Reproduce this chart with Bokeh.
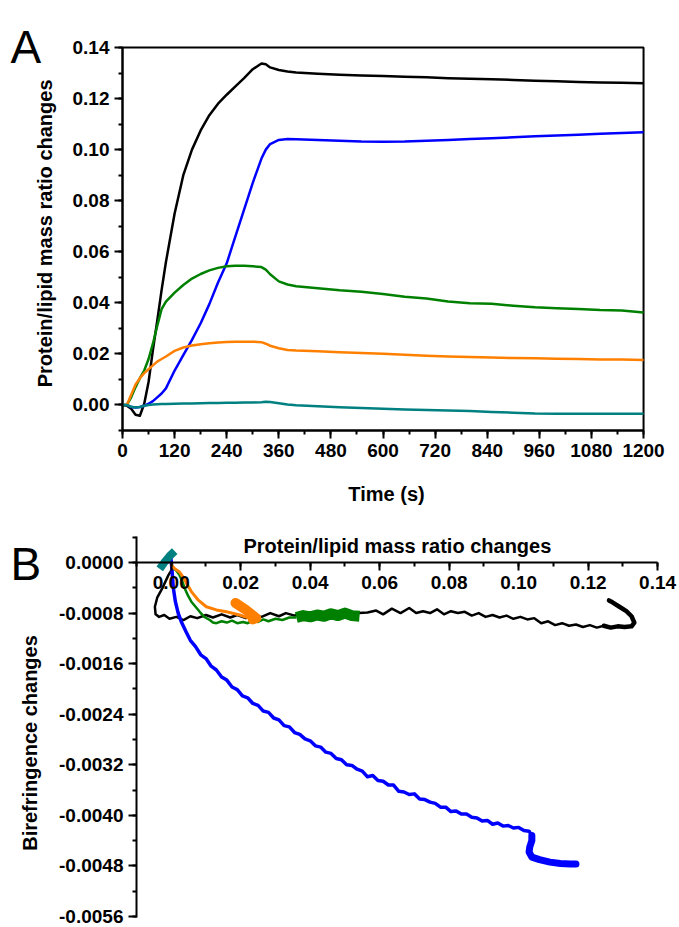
import math
from bokeh.plotting import figure
from bokeh.models import (Range1d, LinearAxis, SingleIntervalTicker, NumeralTickFormatter,
                          Label, BoxAnnotation)
from bokeh.layouts import column
from bokeh.embed import file_html
from bokeh.resources import INLINE

# ---------------- Panel A data: protein/lipid mass ratio vs time ----------------
time_s = [0, 10, 20, 30, 40, 50, 60, 70, 80, 90, 100, 120, 140, 160, 180, 200, 220, 240,
          260, 280, 300, 320, 330, 340, 360, 380, 400, 450, 500, 550, 600, 650, 700, 750,
          800, 850, 900, 950, 1000, 1050, 1100, 1150, 1200]
black_a = [0, -0.0003, -0.0015, -0.0038, -0.0042, 0.0005, 0.009, 0.0215, 0.033, 0.045, 0.056,
           0.075, 0.090, 0.100, 0.1075, 0.1135, 0.118, 0.1215, 0.1248, 0.128, 0.1315, 0.1337,
           0.1334, 0.1322, 0.1312, 0.1306, 0.1302, 0.1297, 0.1293, 0.129, 0.1288, 0.1285, 0.1283,
           0.128, 0.1278, 0.1276, 0.1273, 0.127, 0.1268, 0.1265, 0.1263, 0.1262, 0.126]
blue_a = [0, 0, -0.0008, -0.001, -0.0008, -0.0003, 0.0005, 0.0015, 0.003, 0.0045, 0.0065,
          0.0135, 0.0195, 0.0255, 0.032, 0.0395, 0.048, 0.0555, 0.066, 0.0765, 0.087, 0.0965,
          0.100, 0.1022, 0.1038, 0.1042, 0.1041, 0.1038, 0.1035, 0.1032, 0.1031, 0.1032, 0.1035,
          0.1038, 0.1042, 0.1045, 0.1048, 0.1052, 0.1055, 0.1058, 0.1062, 0.1065, 0.1068]
green_a = [0, 0, 0.003, 0.007, 0.0105, 0.0135, 0.018, 0.024, 0.031, 0.0375, 0.0405, 0.044,
           0.047, 0.0495, 0.0513, 0.0527, 0.0537, 0.0543, 0.0545, 0.0545, 0.0543, 0.054, 0.053,
           0.0512, 0.0484, 0.0472, 0.0465, 0.0457, 0.0449, 0.0443, 0.0435, 0.0424, 0.0417,
           0.0405, 0.0398, 0.0396, 0.0389, 0.0383, 0.0379, 0.0376, 0.0372, 0.037, 0.0362]
orange_a = [0, 0, 0.004, 0.008, 0.0105, 0.0125, 0.014, 0.0155, 0.017, 0.018, 0.019, 0.0212,
            0.0225, 0.0233, 0.0238, 0.0242, 0.0245, 0.0247, 0.0248, 0.0248, 0.0248, 0.0246,
            0.024, 0.0232, 0.0222, 0.0215, 0.0213, 0.021, 0.0207, 0.0204, 0.0201, 0.0197,
            0.0193, 0.019, 0.0188, 0.0186, 0.0184, 0.0183, 0.0181, 0.018, 0.0178, 0.0178, 0.0176]
teal_a = [0, 0, -0.0007, -0.001, -0.0008, -0.0003, 0, 0.0002, 0.0003, 0.0004, 0.0004, 0.0005,
          0.0006, 0.0006, 0.0007, 0.0008, 0.0008, 0.0009, 0.0009, 0.001, 0.001, 0.0011, 0.0013,
          0.0012, 0.0007, 0.0002, -0.0001, -0.0005, -0.0009, -0.0012, -0.0015, -0.0018, -0.002,
          -0.0022, -0.0024, -0.0027, -0.003, -0.0033, -0.0034, -0.0034, -0.0034, -0.0034, -0.0034]

# ---------------- Panel B data: birefringence vs mass ratio ----------------
black_bx = [0.0003, -0.0008, -0.0025, -0.0040, -0.0047, -0.0045, -0.0035, -0.0020, -0.0005,
            0.0015, 0.0035, 0.0055, 0.0075, 0.010, 0.012, 0.0145, 0.017, 0.019, 0.0215, 0.024,
            0.026, 0.0285, 0.031, 0.033, 0.0355, 0.038, 0.040, 0.043, 0.046, 0.049, 0.052,
            0.054, 0.0565, 0.059, 0.061, 0.0635, 0.066, 0.0685, 0.0705, 0.0725, 0.0745, 0.0765,
            0.0785, 0.0805, 0.0825, 0.0845, 0.0865, 0.0885, 0.0905, 0.0925, 0.0945, 0.0965,
            0.0985, 0.1005, 0.1025, 0.1045, 0.1065, 0.1085, 0.1105, 0.1125, 0.1145, 0.1165,
            0.1185, 0.1205, 0.1225, 0.1245, 0.1265, 0.1285]
black_by = [-0.0001, -0.0002, -0.0004, -0.00055, -0.0007, -0.00082, -0.00086, -0.00083, -0.00089,
            -0.00086, -0.00091, -0.00085, -0.00088, -0.00083, -0.00087, -0.00082, -0.00087,
            -0.00083, -0.00088, -0.00084, -0.00086, -0.0008, -0.00085, -0.0008, -0.00084,
            -0.00079, -0.00083, -0.0008, -0.00082, -0.00079, -0.00081, -0.0008, -0.00079,
            -0.00076, -0.00082, -0.00073, -0.0008, -0.00072, -0.0008, -0.00077, -0.0008,
            -0.00074, -0.00082, -0.00077, -0.0008, -0.00078, -0.00084, -0.0008, -0.00086,
            -0.00083, -0.00087, -0.00084, -0.00089, -0.00086, -0.0009, -0.00088, -0.00096,
            -0.00093, -0.00099, -0.00096, -0.001, -0.00098, -0.00102, -0.00099, -0.00103,
            -0.001, -0.00103, -0.00101]
black_tail_x = [0.1245, 0.1265, 0.1285, 0.1305, 0.1325, 0.1333, 0.1325, 0.131, 0.129, 0.127, 0.126]
black_tail_y = [-0.001, -0.00103, -0.00101, -0.00102, -0.00101, -0.00095, -0.00085, -0.00077,
                -0.0007, -0.00063, -0.0006]

blue_bx = [-0.0002, 0.0002, 0.0006, 0.0012, 0.002, 0.003, 0.0043, 0.0055, 0.007, 0.0085, 0.010,
           0.0115, 0.013, 0.0145, 0.016, 0.0175, 0.019, 0.0205, 0.022, 0.0235, 0.025, 0.0265,
           0.028, 0.0295, 0.031, 0.0325, 0.034, 0.0355, 0.037, 0.0385, 0.040, 0.0415, 0.043,
           0.0445, 0.046, 0.0475, 0.049, 0.0505, 0.052, 0.0535, 0.055, 0.0565, 0.058, 0.0595,
           0.061, 0.0625, 0.064, 0.0655, 0.067, 0.0685, 0.070, 0.0715, 0.073, 0.0745, 0.076,
           0.0775, 0.079, 0.0805, 0.082, 0.0835, 0.085, 0.0865, 0.088, 0.0895, 0.091, 0.0925,
           0.094, 0.0955, 0.097, 0.0985, 0.100, 0.1015, 0.103, 0.1038]
blue_by = [0.00013, -0.0001, -0.0004, -0.00062, -0.0008, -0.00095, -0.0011, -0.00123, -0.00133,
           -0.00146, -0.00152, -0.00164, -0.0017, -0.00181, -0.00186, -0.00197, -0.00201,
           -0.00211, -0.00214, -0.00223, -0.00226, -0.00235, -0.00237, -0.00246, -0.00249,
           -0.00258, -0.0026, -0.00269, -0.00272, -0.00279, -0.00282, -0.0029, -0.00292,
           -0.003, -0.00302, -0.0031, -0.00312, -0.0032, -0.00321, -0.00327, -0.0033, -0.00339,
           -0.00337, -0.00345, -0.00346, -0.00352, -0.00352, -0.00362, -0.00363, -0.00367,
           -0.00366, -0.00374, -0.00375, -0.00379, -0.00381, -0.00387, -0.00387, -0.00394,
           -0.00393, -0.00398, -0.00398, -0.00403, -0.00404, -0.00409, -0.00408, -0.00414,
           -0.00412, -0.00417, -0.00416, -0.0042, -0.00419, -0.00424, -0.00425, -0.00432]
blue_tail_x = [0.1038, 0.1038, 0.1032, 0.103, 0.1038, 0.106, 0.109, 0.112, 0.115, 0.1165]
blue_tail_y = [-0.00432, -0.0044, -0.0045, -0.00458, -0.00466, -0.0047, -0.00474, -0.00476,
               -0.00477, -0.00477]

green_bx = [0.0005, 0.0015, 0.0024, 0.0032, 0.0039, 0.0048, 0.0058, 0.007, 0.0082, 0.0095,
            0.0111, 0.012, 0.013, 0.0145, 0.016, 0.0175, 0.019, 0.0207, 0.022, 0.0235, 0.025,
            0.0265, 0.028, 0.030, 0.032, 0.034, 0.036]
green_by = [-0.00008, -0.00013, -0.0002, -0.0003, -0.00041, -0.00052, -0.00062, -0.0007,
            -0.00078, -0.00086, -0.00091, -0.00095, -0.00096, -0.00093, -0.00095, -0.00092,
            -0.00096, -0.00094, -0.00096, -0.00092, -0.00094, -0.0009, -0.00093, -0.00089,
            -0.00091, -0.00087, -0.00087]
green_tail_x = [0.036, 0.038, 0.040, 0.042, 0.044, 0.046, 0.048, 0.050, 0.052, 0.0542]
green_tail_y = [-0.00087, -0.00084, -0.00086, -0.00083, -0.00085, -0.00081, -0.00084, -0.0008,
                -0.00084, -0.00085]

orange_bx = [0.0, 0.001, 0.0024, 0.0034, 0.0044, 0.0058, 0.0077, 0.0101, 0.013, 0.0159, 0.0197,
             0.0235]
orange_by = [-0.00003, -0.0001, -0.00015, -0.00023, -0.00033, -0.00046, -0.00059, -0.0007,
             -0.00075, -0.00078, -0.00083, -0.0009]
orange_tail_x = [0.0235, 0.0245, 0.0215, 0.0185]
orange_tail_y = [-0.0009, -0.00088, -0.00075, -0.00064]

teal_bx = [-0.0033, -0.002, -0.0005, 0.001]
teal_by = [-0.0001, 0.0, 0.0001, 0.00018]

BLACK, BLUE, GREEN, ORANGE, TEAL = "#000000", "#0000FF", "#008000", "#FF8000", "#008080"
FONT = "Liberation Sans"


def style_axis(ax, interval, fmt):
    ax.ticker = SingleIntervalTicker(interval=interval, num_minor_ticks=2)
    ax.formatter = NumeralTickFormatter(format=fmt)
    ax.axis_line_width = 2
    ax.axis_line_color = "black"
    ax.major_tick_line_width = 2
    ax.minor_tick_line_width = 2
    ax.major_tick_out = 8
    ax.major_tick_in = 0
    ax.minor_tick_out = 4
    ax.minor_tick_in = 0
    ax.major_label_text_font = FONT
    ax.major_label_text_font_style = "bold"
    ax.major_label_text_font_size = "19px"
    ax.major_label_text_color = "black"
    ax.major_label_standoff = 5


def text_label(x, y, text, size, bold=True, angle=0.0, align="center", baseline="alphabetic"):
    return Label(x=x, y=y, text=text, text_font=FONT, text_font_size=size,
                 text_font_style="bold" if bold else "normal", angle=angle,
                 text_align=align, text_baseline=baseline, text_color="black")


# ---------------- Panel A (frame covers the whole canvas; axes at fixed places) ----------------
pa = figure(width=679, height=506, x_range=Range1d(-281, 1282.8), y_range=Range1d(-0.03975, 0.1584),
            output_backend="svg", toolbar_location=None, x_axis_location=None, y_axis_location=None,
            min_border=0)
pa.grid.visible = False
pa.outline_line_color = None

ax_a_x = LinearAxis(fixed_location=-0.01, bounds=(0, 1200))
style_axis(ax_a_x, 120, "0")
pa.add_layout(ax_a_x, "below")
ax_a_y = LinearAxis(fixed_location=0, bounds=(-0.01, 0.1401))
style_axis(ax_a_y, 0.02, "0.00")
pa.add_layout(ax_a_y, "left")
pa.add_layout(BoxAnnotation(left=0, right=1200, bottom=-0.01, top=0.14, fill_alpha=0,
                            line_color="black", line_alpha=1, line_width=2, level="underlay"))

for ys, c in [(black_a, BLACK), (blue_a, BLUE), (green_a, GREEN), (orange_a, ORANGE), (teal_a, TEAL)]:
    pa.line(time_s, ys, line_color=c, line_width=2.5, line_join="round")

pa.add_layout(text_label(608, -0.0347, "Time (s)", "20px"))
pa.add_layout(text_label(-178.5, 0.0672, "Protein/lipid mass ratio changes", "20px",
                         angle=math.pi / 2, baseline="middle"))
pa.add_layout(text_label(-258, 0.14, "A", "46px", bold=False, align="left"))

# ---------------- Panel B ----------------
pb = figure(width=679, height=420, x_range=Range1d(-0.04914, 0.1463),
            y_range=Range1d(-0.005758, 0.000886),
            output_backend="svg", toolbar_location=None, x_axis_location=None, y_axis_location=None,
            min_border=0)
pb.grid.visible = False
pb.outline_line_color = None

ax_b_y = LinearAxis(fixed_location=-0.01, bounds=(-0.00561, 0.00041))
style_axis(ax_b_y, 0.0008, "0.0000")
pb.add_layout(ax_b_y, "left")
ax_b_x = LinearAxis(fixed_location=0, bounds=(-0.01, 0.1401))
style_axis(ax_b_x, 0.02, "0.00")
pb.add_layout(ax_b_x, "below")

pb.line(black_bx, black_by, line_color=BLACK, line_width=2.5, line_join="round")
pb.line(black_tail_x, black_tail_y, line_color=BLACK, line_width=4.5, line_join="round", line_cap="round")
pb.line(blue_bx, blue_by, line_color=BLUE, line_width=3.5, line_join="round")
pb.line(blue_tail_x, blue_tail_y, line_color=BLUE, line_width=7, line_join="round", line_cap="round")
pb.line(green_bx, green_by, line_color=GREEN, line_width=2.5, line_join="round")
pb.line(green_tail_x, green_tail_y, line_color=GREEN, line_width=11, line_join="round")
pb.line(orange_bx, orange_by, line_color=ORANGE, line_width=3, line_join="round")
pb.line(orange_tail_x, orange_tail_y, line_color=ORANGE, line_width=10, line_join="round", line_cap="round")
pb.line(teal_bx, teal_by, line_color=TEAL, line_width=8, line_join="round")

pb.add_layout(text_label(0.0651, 0.000269, "Protein/lipid mass ratio changes", "20px"))
pb.add_layout(text_label(-0.04065, -0.002855, "Birefringence changes", "20px",
                         angle=math.pi / 2, baseline="middle"))
pb.add_layout(text_label(-0.04626, -0.0000158, "B", "46px", bold=False, align="left"))

layout = column(pa, pb, spacing=0)
open("out.html", "w").write(file_html(layout, INLINE))
